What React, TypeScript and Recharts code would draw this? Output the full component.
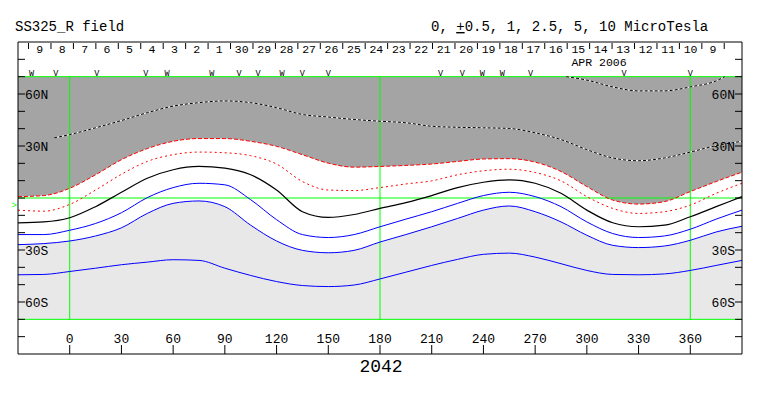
import { ComposedChart, Line, Area, XAxis, YAxis, ReferenceLine, Scatter } from 'recharts';

// Carrington longitude samples (deg) used by the main contours
const lons = [-30, -15, 0, 15, 30, 45, 60, 75, 90, 105, 120, 135, 150, 165, 180, 195, 210, 225, 240, 255, 270, 285, 300, 315, 330, 345, 360, 375, 390];

// contour latitudes (deg) per level
const neutral = [-14.3, -13.8, -11.4, -5.0, 3.3, 11.4, 16.3, 18.2, 17.2, 13.4, 4.6, -7.9, -11.2, -9.5, -6.0, -2.7, 1.4, 6.0, 9.1, 10.5, 8.5, 2.7, -7.0, -14.3, -16.6, -15.7, -10.8, -5.0, 0.8];
const posHalf = [-7.0, -7.6, -3.7, 4.6, 13.7, 21.1, 25.0, 26.5, 26.1, 24.4, 19.6, 9.5, 4.6, 4.3, 6.0, 8.1, 9.9, 13.4, 15.7, 16.6, 14.7, 9.9, 0.8, -6.0, -8.9, -7.9, -4.1, 2.7, 8.5];
const posOne = [0.8, 1.4, 5.6, 13.4, 22.1, 28.5, 32.7, 34.3, 34.3, 32.7, 29.8, 25.0, 20.1, 17.8, 18.2, 18.8, 19.6, 21.1, 22.5, 22.7, 20.7, 15.3, 6.6, -1.2, -3.5, -2.1, 3.7, 9.5, 14.9];
const negHalf = [-21.1, -21.1, -18.6, -14.7, -8.5, 0.2, 6.0, 8.5, 7.6, -1.0, -12.5, -21.1, -22.8, -21.1, -16.6, -12.2, -7.9, -3.1, 1.4, 3.3, 0.8, -5.0, -13.8, -20.5, -22.8, -21.9, -18.0, -12.2, -7.0];
const negOne = [-26.9, -26.3, -24.8, -21.9, -17.2, -8.9, -3.1, -1.7, -5.0, -15.7, -24.8, -30.2, -31.6, -30.2, -25.4, -21.1, -16.6, -11.8, -7.0, -4.6, -7.9, -13.8, -21.5, -27.3, -28.6, -27.7, -24.4, -19.6, -16.3];
const negTwoHalf = [-44.3, -44.1, -42.4, -40.5, -38.5, -37.0, -35.6, -36.0, -40.5, -44.7, -48.2, -50.5, -51.1, -50.2, -46.7, -42.8, -38.9, -35.4, -32.5, -31.8, -34.1, -37.9, -41.8, -44.1, -44.3, -43.8, -41.8, -38.9, -36.0];

const posTwoHalfLons = [-9, 0, 15, 30, 45, 60, 75, 90, 105, 120, 135, 150, 165, 180, 195, 210, 225, 240, 255, 270, 285, 300, 315, 330, 345, 360, 375, 390];
const posTwoHalf = [34.7, 36.6, 40.5, 44.7, 49.2, 53.0, 55.0, 56.0, 55.0, 52.1, 48.2, 46.7, 45.3, 44.3, 43.4, 41.4, 40.8, 40.5, 40.1, 37.6, 33.7, 27.9, 23.1, 21.5, 23.1, 26.5, 30.2, 32.7];

const posFiveLons = [288, 300, 315, 330, 345, 360, 375, 380];
const posFive = [70, 68.0, 64.1, 61.8, 61.8, 64.1, 67.6, 70];

// date strip (APR 2006 back into March)
const dateLabels = ['9', '8', '7', '6', '5', '4', '3', '2', '1', '30', '29', '28', '27', '26', '25', '24', '23', '22', '21', '20', '19', '18', '17', '16', '15', '14', '13', '12', '11', '10', '9'];
const firstDateLon = -17.4;
const degPerDay = 13.02;
const dateLons = dateLabels.map((_, i) => firstDateLon + i * degPerDay);

// observation markers along the top edge
const markerLons = [-22.1, -8.1, 15.7, 44.2, 56.4, 82.5, 98.2, 109.3, 123.2, 134.9, 150.0, 215.1, 227.7, 239.3, 250.9, 267.4, 321.6, 360.0];
const markerKinds = ['W', 'V', 'V', 'V', 'W', 'W', 'V', 'V', 'W', 'V', 'V', 'V', 'V', 'W', 'W', 'V', 'V', 'V'];

const lonTicks = [0, 30, 60, 90, 120, 150, 180, 210, 240, 270, 300, 330, 360];
const latTicks = [-80, -70, -60, -50, -40, -30, -20, -10, 0, 10, 20, 30, 40, 50, 60, 70, 80];
const latLabels: Record<string, string> = { '60': '60N', '30': '30N', '-30': '30S', '-60': '60S' };

const earthLat = -4;

const W = 763;
const H = 396;
// axes get 1px boxes, so the frame sits at x 19..741, y 43..353
const M = { top: 42, right: 21, bottom: 42, left: 18 };
const PX_PER_DEG = 722 / 420;
const MONO = '"Liberation Mono", "DejaVu Sans Mono", monospace';

const rows = (xs: number[], ys: number[]) => xs.map((lon, i) => ({ lon, lat: ys[i] }));
const darkBand = lons.map((lon, i) => ({ lon, band: [posOne[i], 70] }));
const lightBand = lons.map((lon, i) => ({ lon, band: [-70, negOne[i]] }));
const markerRows = markerLons.map((lon, i) => ({ lon, lat: 70, kind: markerKinds[i] }));

const DateTick = (props: any) => {
  const { x, index } = props;
  const half = (degPerDay / 2) * PX_PER_DEG;
  const top = 43;
  return (
    <g>
      <line x1={x - half} x2={x - half} y1={top} y2={top + 6} stroke="#000" />
      {index === dateLabels.length - 1 && (
        <line x1={x + half} x2={x + half} y1={top} y2={top + 6} stroke="#000" />
      )}
      <text x={x} y={top + 10} textAnchor="middle" fontSize={11.5} fontFamily={MONO} fill="#000">
        {dateLabels[index]}
      </text>
    </g>
  );
};

const LatTick = (props: any) => {
  const { x, y, payload, textAnchor } = props;
  const label = latLabels[String(payload.value)];
  if (!label) return <g />;
  return (
    <text x={x} y={y} dy="0.35em" textAnchor={textAnchor} fontSize={13} fontFamily={MONO} fill="#000">
      {label}
    </text>
  );
};

const MarkerShape = (props: any) => (
  <text x={props.cx} y={props.cy - 0.5} textAnchor="middle" fontSize={8.5} fontFamily={MONO} fill="#000">
    {props.payload.kind}
  </text>
);

const EarthShape = (props: any) => (
  <text x={props.cx - 1} y={props.cy} dy="0.35em" textAnchor="end" fontSize={9} fontFamily={MONO} fill="#00ff00">
    {'>'}
  </text>
);

export default function App() {
  return (
    <div style={{ position: 'absolute', left: 0, top: 0, background: '#fff' }}>
      <ComposedChart width={W} height={H} margin={M}>
        <XAxis
          xAxisId={0}
          dataKey="lon"
          type="number"
          domain={[-30, 390]}
          ticks={lonTicks}
          interval={0}
          mirror
          height={1}
          tickSize={9}
          tickMargin={2}
          axisLine={{ stroke: '#000' }}
          tickLine={{ stroke: '#000' }}
          tick={{ fill: '#000', fontSize: 13, fontFamily: MONO }}
        />
        <XAxis
          xAxisId="top"
          orientation="top"
          dataKey="lon"
          type="number"
          domain={[-30, 390]}
          ticks={dateLons}
          interval={0}
          mirror
          height={1}
          tickLine={false}
          axisLine={{ stroke: '#000' }}
          tick={<DateTick />}
        />
        <YAxis
          yAxisId={0}
          dataKey="lat"
          type="number"
          domain={[-90, 90]}
          ticks={latTicks}
          interval={0}
          mirror
          width={1}
          tickSize={7}
          tickMargin={0}
          axisLine={{ stroke: '#000' }}
          tickLine={{ stroke: '#000' }}
          tick={<LatTick />}
        />
        <YAxis
          yAxisId="r"
          orientation="right"
          dataKey="lat"
          type="number"
          domain={[-90, 90]}
          ticks={latTicks}
          interval={0}
          mirror
          width={1}
          tickSize={7}
          tickMargin={0}
          axisLine={{ stroke: '#000' }}
          tickLine={{ stroke: '#000' }}
          tick={<LatTick />}
        />

        <Area data={darkBand} dataKey="band" type="monotone" fill="#a4a4a4" fillOpacity={1} stroke="none" isAnimationActive={false} />
        <Area data={lightBand} dataKey="band" type="monotone" fill="#e8e8e8" fillOpacity={1} stroke="none" isAnimationActive={false} />

        <ReferenceLine y={0} stroke="#00ff00" />
        <ReferenceLine y={70} stroke="#00ff00" />
        <ReferenceLine y={-70} stroke="#00ff00" />
        <ReferenceLine segment={[{ x: 0, y: -70 }, { x: 0, y: 70 }]} stroke="#00ff00" />
        <ReferenceLine segment={[{ x: 180, y: -70 }, { x: 180, y: 70 }]} stroke="#00ff00" />
        <ReferenceLine segment={[{ x: 360, y: -70 }, { x: 360, y: 70 }]} stroke="#00ff00" />

        <Line data={rows(posTwoHalfLons, posTwoHalf)} dataKey="lat" type="monotone" stroke="#fff" strokeWidth={1} dot={false} activeDot={false} isAnimationActive={false} />
        <Line data={rows(posTwoHalfLons, posTwoHalf)} dataKey="lat" type="monotone" stroke="#000" strokeWidth={1} strokeDasharray="3 2" dot={false} activeDot={false} isAnimationActive={false} />
        <Line data={rows(posFiveLons, posFive)} dataKey="lat" type="monotone" stroke="#fff" strokeWidth={1} dot={false} activeDot={false} isAnimationActive={false} />
        <Line data={rows(posFiveLons, posFive)} dataKey="lat" type="monotone" stroke="#000" strokeWidth={1} strokeDasharray="3 2" dot={false} activeDot={false} isAnimationActive={false} />
        <Line data={rows(lons, posOne)} dataKey="lat" type="monotone" stroke="#ff0000" strokeWidth={1} strokeDasharray="4 2" dot={false} activeDot={false} isAnimationActive={false} />
        <Line data={rows(lons, posHalf)} dataKey="lat" type="monotone" stroke="#ff0000" strokeWidth={1} strokeDasharray="2 3" dot={false} activeDot={false} isAnimationActive={false} />
        <Line data={rows(lons, neutral)} dataKey="lat" type="monotone" stroke="#000" strokeWidth={1.2} dot={false} activeDot={false} isAnimationActive={false} />
        <Line data={rows(lons, negHalf)} dataKey="lat" type="monotone" stroke="#0000ff" strokeWidth={1} dot={false} activeDot={false} isAnimationActive={false} />
        <Line data={rows(lons, negOne)} dataKey="lat" type="monotone" stroke="#0000ff" strokeWidth={1} dot={false} activeDot={false} isAnimationActive={false} />
        <Line data={rows(lons, negTwoHalf)} dataKey="lat" type="monotone" stroke="#0000ff" strokeWidth={1} dot={false} activeDot={false} isAnimationActive={false} />

        <Scatter xAxisId="top" data={markerRows} dataKey="lat" shape={MarkerShape} isAnimationActive={false} />
        <Scatter yAxisId="r" data={[{ lon: -30, lat: earthLat }]} dataKey="lat" shape={EarthShape} isAnimationActive={false} />

        <text x={15} y={31} fontSize={14} fontFamily={MONO} fill="#000">SS325_R field</text>
        <text x={431} y={31} fontSize={14} fontFamily={MONO} fill="#000">
          0, <tspan textDecoration="underline">+</tspan>0.5, 1, 2.5, 5, 10 MicroTesla
        </text>
        <text x={599} y={66} textAnchor="middle" fontSize={11.5} fontFamily={MONO} fill="#000">APR 2006</text>
        <text x={381} y={372} textAnchor="middle" fontSize={18} fontFamily={MONO} fill="#000">2042</text>
      </ComposedChart>
    </div>
  );
}
